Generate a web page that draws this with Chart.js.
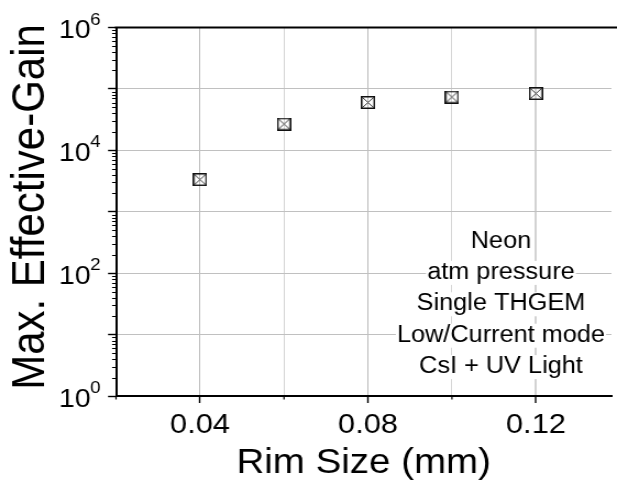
<!DOCTYPE html>
<html>
<head>
<meta charset="utf-8">
<script src="https://cdn.jsdelivr.net/npm/chart.js@4/dist/chart.umd.min.js"></script>
<style>
  html, body { margin: 0; padding: 0; background: #fff; overflow: hidden; }
  /* the plot is laid out on a 561px canvas and widened to the 617px frame */
  #wrap { width: 561px; height: 481px; transform: scaleX(1.0998); transform-origin: 0 0; }
  canvas { display: block; }
</style>
</head>
<body>
<div id="wrap"><canvas id="c" width="561" height="481"></canvas></div>
<script>
// Max. effective gain of a single THGEM versus hole rim size
const rimSize = [0.04, 0.06, 0.08, 0.10, 0.12];          // mm
const maxGain = [3340, 26800, 60100, 73800, 84100];

const xMajorTicks = [0.04, 0.08, 0.12];                  // labelled
const xMinorTicks = [0.02, 0.06, 0.10];
const xTickLabels = ['0.04', '0.08', '0.12'];
const yDecadeExponents = [0, 1, 2, 3, 4, 5, 6];
const yLabelledExponents = [0, 2, 4, 6];
const yTitle = 'Max. Effective-Gain';
const noteLines = ['Neon', 'atm pressure', 'Single THGEM', 'Low/Current mode', 'CsI + UV Light'];

const FONT = "'Liberation Sans', Arial, Helvetica, sans-serif";
Chart.defaults.font.family = FONT;
Chart.defaults.color = '#000';

const key = v => Math.round(v * 1000);
const isMajorX = v => xMajorTicks.some(t => key(t) === key(v));

// open square with a diagonal cross
function crossedSquare() {
  const c = document.createElement('canvas');
  c.width = 13; c.height = 13;
  const g = c.getContext('2d');
  g.strokeStyle = '#3a3a3a';
  g.lineWidth = 1;
  g.beginPath();
  g.moveTo(1.5, 1.5); g.lineTo(11.5, 11.5);
  g.moveTo(11.5, 1.5); g.lineTo(1.5, 11.5);
  g.stroke();
  g.strokeStyle = '#111';
  g.lineWidth = 1.5;
  g.strokeRect(0.75, 0.75, 11.5, 11.5);
  return c;
}

const decor = {
  id: 'decor',
  afterDraw(chart) {
    const { ctx, chartArea: a, scales: { x, y } } = chart;
    ctx.save();
    // frame line across the top
    ctx.strokeStyle = '#000';
    ctx.lineWidth = 2;
    ctx.beginPath();
    ctx.moveTo(a.left - 1, a.top);
    ctx.lineTo(chart.width, a.top);
    ctx.stroke();

    // short minor ticks
    ctx.lineWidth = 1.2;
    ctx.beginPath();
    yDecadeExponents.slice(0, -1).forEach(e => {
      for (let m = 2; m <= 9; m++) {
        const py = Math.round(y.getPixelForValue(m * Math.pow(10, e))) + 0.5;
        ctx.moveTo(a.left - 3.6, py);
        ctx.lineTo(a.left, py);
      }
    });
    xMinorTicks.forEach(v => {
      const px = x.getPixelForValue(v);
      ctx.moveTo(px, a.bottom);
      ctx.lineTo(px, a.bottom + 3.5);
    });
    ctx.stroke();

    // decade labels 10^n
    ctx.fillStyle = '#000';
    yLabelledExponents.forEach(e => {
      const py = y.getPixelForValue(Math.pow(10, e));
      ctx.font = '26px ' + FONT;
      ctx.textAlign = 'right';
      ctx.textBaseline = 'alphabetic';
      ctx.fillText('10', 82.5, py + 10.5);
      ctx.font = '17px ' + FONT;
      ctx.textAlign = 'left';
      ctx.fillText(String(e), 82, py - 3);
    });

    // vertical axis title
    ctx.save();
    ctx.translate(40, 207);
    ctx.rotate(-Math.PI / 2);
    ctx.font = '42px ' + FONT;
    ctx.textAlign = 'center';
    ctx.textBaseline = 'alphabetic';
    ctx.fillText(yTitle, 0, 0);
    ctx.restore();

    // run conditions
    ctx.font = '23px ' + FONT;
    ctx.textAlign = 'center';
    ctx.textBaseline = 'alphabetic';
    const cx = 455.5, base0 = 247.5, step = 31.4;
    noteLines.forEach((t, i) => {
      const b = base0 + i * step;
      const w = ctx.measureText(t).width;
      ctx.fillStyle = '#fff';
      ctx.fillRect(cx - w / 2 - 1, b - 18, w + 2, 24);
      ctx.fillStyle = '#000';
      ctx.fillText(t, cx, b);
    });
    ctx.restore();
  }
};

new Chart(document.getElementById('c'), {
  type: 'scatter',
  data: {
    datasets: [{
      data: rimSize.map((r, i) => ({ x: r, y: maxGain[i] })),
      pointStyle: crossedSquare(),
      showLine: false
    }]
  },
  options: {
    responsive: false,
    animation: false,
    devicePixelRatio: 1,
    layout: { padding: { top: 27.5, right: 0, bottom: 0, left: 0 } },
    plugins: { legend: { display: false }, tooltip: { enabled: false } },
    scales: {
      x: {
        type: 'linear',
        min: 0.02,
        max: 0.138,
        afterBuildTicks: s => {
          s.ticks = xMinorTicks.concat(xMajorTicks).sort((p, q) => p - q).map(v => ({ value: v }));
        },
        afterFit: s => { s.height = 85; },
        ticks: {
          autoSkip: false,
          maxRotation: 0,
          padding: 5,
          font: { size: 28 },
          color: '#000',
          callback: v => {
            const i = xMajorTicks.findIndex(t => key(t) === key(v));
            return i >= 0 ? xTickLabels[i] : '';
          }
        },
        grid: {
          color: c => {
            if (!c.tick) return '#bcbcbc';
            if (key(c.tick.value) === key(xMinorTicks[0])) return 'rgba(0,0,0,0)';
            if (key(c.tick.value) === key(xMajorTicks[2])) return '#d2d2d2';
            return isMajorX(c.tick.value) ? '#bcbcbc' : '#d6d6d6';
          },
          lineWidth: c => (c.tick && key(c.tick.value) === key(xMajorTicks[2])) ? 2 : 1,
          borderDash: c => (c.tick && !isMajorX(c.tick.value)) ? [2, 3] : [],
          tickLength: 7,
          tickWidth: 1.4,
          tickColor: c => (c.tick && isMajorX(c.tick.value)) ? '#000' : 'rgba(0,0,0,0)'
        },
        border: { color: '#000', width: 2 },
        title: {
          display: true,
          text: 'Rim Size (mm)',
          font: { size: 35, lineHeight: 1.0 },
          color: '#000',
          padding: { top: 0, bottom: 0 }
        }
      },
      y: {
        type: 'logarithmic',
        min: 1,
        max: 1e6,
        afterBuildTicks: s => {
          s.ticks = yDecadeExponents.map(e => ({ value: Math.pow(10, e) }));
        },
        afterFit: s => { s.width = 105.5; },
        ticks: { display: false },
        grid: {
          color: c => {
            if (!c.tick) return '#c0c0c0';
            const v = c.tick.value;
            return (v === 1 || v === 1e6) ? 'rgba(0,0,0,0)' : '#c0c0c0';
          },
          lineWidth: 1,
          tickLength: 7.3,
          tickWidth: 1.4,
          tickColor: '#000'
        },
        border: { color: '#000', width: 2 },
        title: { display: false }
      }
    }
  },
  plugins: [decor]
});
</script>
</body>
</html>
